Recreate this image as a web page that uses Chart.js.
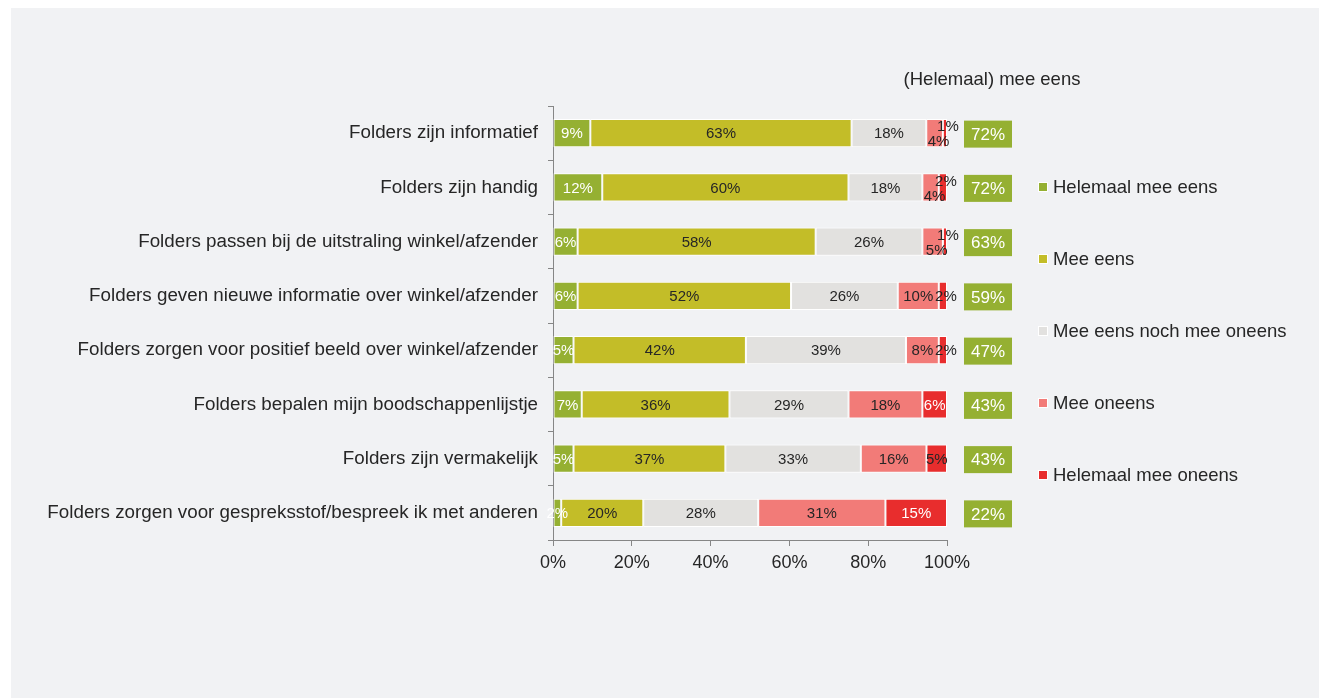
<!DOCTYPE html>
<html>
<head>
<meta charset="utf-8">
<script src="https://cdn.jsdelivr.net/npm/chart.js@4.4.1/dist/chart.umd.min.js"></script>
<style>
  html, body { margin: 0; padding: 0; background: #ffffff; }
  #panel {
    position: absolute; left: 11px; top: 8px;
    width: 1308px; height: 690px;
    background: #f1f2f4;
  }
</style>
</head>
<body>
<div id="panel"><canvas id="chart"></canvas></div>
<script>
const categories = [
  'Folders zijn informatief',
  'Folders zijn handig',
  'Folders passen bij de uitstraling winkel/afzender',
  'Folders geven nieuwe informatie over winkel/afzender',
  'Folders zorgen voor positief beeld over winkel/afzender',
  'Folders bepalen mijn boodschappenlijstje',
  'Folders zijn vermakelijk',
  'Folders zorgen voor gespreksstof/bespreek ik met anderen'
];

const seriesNames = [
  'Helemaal mee eens',
  'Mee eens',
  'Mee eens noch mee oneens',
  'Mee oneens',
  'Helemaal mee oneens'
];

const helemaalMeeEens = [9, 12, 6, 6, 5, 7, 5, 2];
const meeEens = [63, 60, 58, 52, 42, 36, 37, 20];
const neutraal = [18, 18, 26, 26, 39, 29, 33, 28];
const meeOneens = [4, 4, 5, 10, 8, 18, 16, 31];
const helemaalMeeOneens = [1, 2, 1, 2, 2, 6, 5, 15];

// "(Helemaal) mee eens" column
const totaalEens = [72, 72, 63, 59, 47, 43, 43, 22];

const xTicks = [0, 20, 40, 60, 80, 100];

const colors = ['#95b032', '#c3bd28', '#e2e1df', '#f27b78', '#e82d2d'];
const FONT = '"Liberation Sans", Arial, sans-serif';
const DARK = '#262626';

const rows = [helemaalMeeEens, meeEens, neutraal, meeOneens, helemaalMeeOneens];
const rowSums = categories.map((_, i) => rows.reduce((s, r) => s + r[i], 0));

// 100% stacked: each segment as share of its row
const datasets = rows.map((vals, k) => ({
  label: seriesNames[k],
  raw: vals,
  data: vals.map((v, i) => v / rowSums[i] * 100),
  backgroundColor: colors[k],
  borderColor: '#ffffff',
  borderWidth: 1,
  borderSkipped: false,
  barPercentage: 0.52,
  categoryPercentage: 1
}));

const segmentLabels = {
  id: 'segmentLabels',
  afterDatasetsDraw(chart) {
    const ctx = chart.ctx;
    ctx.save();
    ctx.font = '15px ' + FONT;
    ctx.textAlign = 'center';
    ctx.textBaseline = 'middle';
    const last = chart.data.datasets.length - 1;
    categories.forEach((_, i) => {
      const lastBar = chart.getDatasetMeta(last).data[i];
      const prevBar = chart.getDatasetMeta(last - 1).data[i];
      const lastW = Math.abs(lastBar.x - lastBar.base);
      const prevTxt = chart.data.datasets[last - 1].raw[i] + '%';
      const prevFits = ctx.measureText(prevTxt).width < Math.abs(prevBar.x - prevBar.base);
      const stagger = lastW < 10 && !prevFits;
      chart.data.datasets.forEach((ds, k) => {
        const bar = chart.getDatasetMeta(k).data[i];
        const txt = ds.raw[i] + '%';
        const w = Math.abs(bar.x - bar.base);
        let x = (bar.x + bar.base) / 2;
        let y = bar.y + 1;
        if (k === last && lastW < 10) { x += 3; if (stagger) y -= 7; }
        if (k === last - 1 && stagger) { x += 4; y += 8; }
        const fits = ctx.measureText(txt).width < w;
        ctx.fillStyle = (k === 0 || (k === last && fits)) ? '#ffffff' : DARK;
        ctx.fillText(txt, x, y);
      });
    });
    ctx.restore();
  }
};

const totalsAndLegend = {
  id: 'totalsAndLegend',
  afterDraw(chart) {
    const ctx = chart.ctx;
    const area = chart.chartArea;
    const yScale = chart.scales.y;
    ctx.save();
    // column header
    const boxL = area.right + 17, boxW = 48, boxH = 27;
    ctx.font = '18.5px ' + FONT;
    ctx.fillStyle = DARK;
    ctx.textAlign = 'center';
    ctx.textBaseline = 'middle';
    ctx.fillText('(Helemaal) mee eens', boxL + boxW / 2 + 4, area.top - 26);
    // total boxes
    ctx.font = '17px ' + FONT;
    totaalEens.forEach((v, i) => {
      const y = yScale.getPixelForValue(i) + 1;
      ctx.fillStyle = colors[0];
      ctx.fillRect(boxL, y - boxH / 2, boxW, boxH);
      ctx.fillStyle = '#ffffff';
      ctx.fillText(v + '%', boxL + boxW / 2, y + 1);
    });
    // legend
    const lx = area.right + 92;
    const midY = (area.top + area.bottom) / 2 + 8;
    ctx.font = '18.5px ' + FONT;
    ctx.textAlign = 'left';
    chart.data.datasets.forEach((ds, k) => {
      const y = midY + (k - 2) * 72;
      ctx.fillStyle = '#ffffff';
      ctx.fillRect(lx - 1, y - 5, 10, 10);
      ctx.fillStyle = ds.backgroundColor;
      ctx.fillRect(lx, y - 4, 8, 8);
      ctx.fillStyle = DARK;
      ctx.fillText(ds.label, lx + 14, y + 1);
    });
    ctx.restore();
  }
};

new Chart(document.getElementById('chart'), {
  type: 'bar',
  data: { labels: categories, datasets },
  options: {
    indexAxis: 'y',
    responsive: true,
    maintainAspectRatio: false,
    animation: false,
    layout: { padding: { top: 98, right: 372, bottom: 0, left: 0 } },
    scales: {
      x: {
        stacked: true,
        min: 0,
        max: 100,
        afterBuildTicks: (scale) => { scale.ticks = xTicks.map(v => ({ value: v })); },
        afterFit: (scale) => { scale.height = 158; },
        ticks: {
          callback: (v) => v + '%',
          color: DARK,
          font: { family: FONT, size: 18 },
          padding: 6,
          maxRotation: 0
        },
        grid: { drawOnChartArea: false, tickLength: 6, color: '#868686' },
        border: { color: '#868686' }
      },
      y: {
        stacked: true,
        afterFit: (scale) => { scale.width = 542; },
        ticks: {
          color: DARK,
          font: { family: FONT, size: 18.8 },
          padding: 10
        },
        grid: { drawOnChartArea: false, offset: true, tickLength: 5, color: '#868686' },
        border: { color: '#868686' }
      }
    },
    plugins: {
      legend: { display: false },
      tooltip: { enabled: false }
    }
  },
  plugins: [segmentLabels, totalsAndLegend]
});
</script>
</body>
</html>
